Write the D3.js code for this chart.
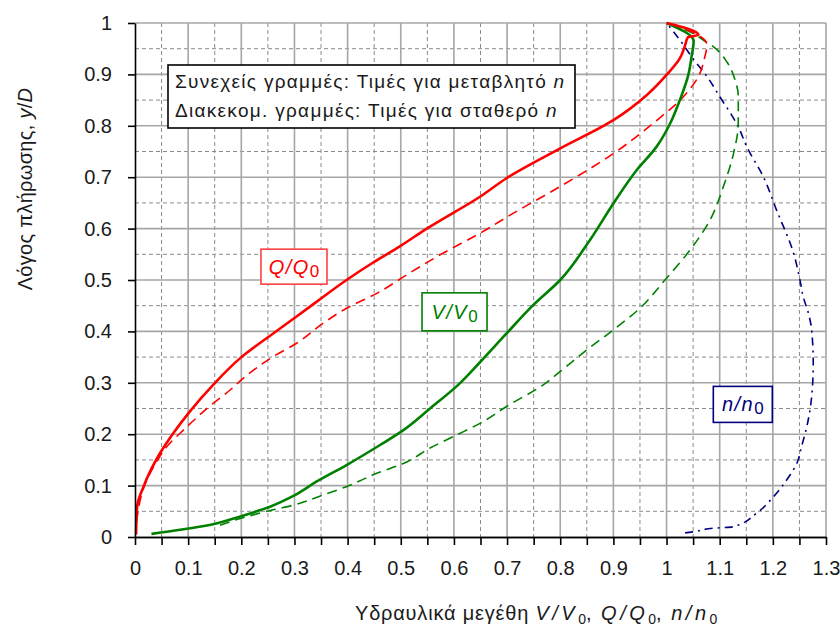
<!DOCTYPE html>
<html>
<head>
<meta charset="utf-8">
<script src="https://cdn.jsdelivr.net/npm/d3@7"></script>
<style>
  body { margin: 0; background: #fff; }
  svg { display: block; }
  text { font-family: "Liberation Sans", Arial, sans-serif; }
</style>
</head>
<body>
<svg id="chart" width="840" height="628"></svg>
<script>
(() => {

    // tick values and labels
    const x_tick_values = [0, 0.1, 0.2, 0.3, 0.4, 0.5, 0.6, 0.7, 0.8, 0.9, 1, 1.1, 1.2, 1.3];
    const x_tick_labels = ['0', '0.1', '0.2', '0.3', '0.4', '0.5', '0.6', '0.7', '0.8', '0.9', '1', '1.1', '1.2', '1.3'];
    const y_tick_values = [0, 0.1, 0.2, 0.3, 0.4, 0.5, 0.6, 0.7, 0.8, 0.9, 1];
    const y_tick_labels = ['0', '0.1', '0.2', '0.3', '0.4', '0.5', '0.6', '0.7', '0.8', '0.9', '1'];
    const x_minor_values = [0.05, 0.15, 0.25, 0.35, 0.45, 0.55, 0.65, 0.75, 0.85, 0.95, 1.05, 1.15, 1.25];
    const y_minor_values = [0.05, 0.15, 0.25, 0.35, 0.45, 0.55, 0.65, 0.75, 0.85, 0.95];

    // series: [value, y/D]
    const q_variable = [[0.002, 0.005], [0.004, 0.059], [0.016, 0.098], [0.047, 0.163], [0.072, 0.202],
        [0.103, 0.244], [0.147, 0.296], [0.198, 0.348], [0.26, 0.396], [0.304, 0.429], [0.342, 0.458],
        [0.398, 0.5], [0.448, 0.534], [0.499, 0.566], [0.549, 0.600], [0.649, 0.662], [0.699, 0.698],
        [0.8, 0.756], [0.9, 0.811], [0.963, 0.86], [1.0, 0.899], [1.025, 0.931], [1.035, 0.957],
        [1.04, 0.972], [1.06, 0.977], [1.0, 1.0]];

    const q_constant = [[0.003, 0.03], [0.018, 0.1], [0.041, 0.147], [0.06, 0.176], [0.091, 0.208],
        [0.147, 0.26], [0.179, 0.286], [0.204, 0.309], [0.26, 0.351], [0.304, 0.377], [0.354, 0.416],
        [0.398, 0.445], [0.455, 0.474], [0.511, 0.51], [0.574, 0.549], [0.649, 0.591], [0.712, 0.63],
        [0.8, 0.682], [0.9, 0.746], [0.975, 0.805], [1.032, 0.857], [1.06, 0.896], [1.072, 0.934],
        [1.076, 0.957], [1.059, 0.977], [1.0, 1.0]];

    const v_variable = [[0.031, 0.006], [0.085, 0.014], [0.147, 0.025], [0.198, 0.04], [0.254, 0.059],
        [0.298, 0.08], [0.342, 0.108], [0.398, 0.14], [0.461, 0.179], [0.505, 0.208], [0.555, 0.25],
        [0.608, 0.296], [0.649, 0.34], [0.699, 0.396], [0.749, 0.451], [0.8, 0.5], [0.856, 0.578],
        [0.9, 0.649], [0.944, 0.714], [0.981, 0.759], [1.007, 0.805], [1.025, 0.85], [1.041, 0.899],
        [1.047, 0.934], [1.051, 0.965], [1.0, 1.0]];

    const v_constant = [[0.16, 0.023], [0.198, 0.036], [0.26, 0.053], [0.298, 0.062], [0.354, 0.082],
        [0.398, 0.098], [0.455, 0.124], [0.505, 0.143], [0.555, 0.173], [0.618, 0.205], [0.649, 0.221],
        [0.699, 0.254], [0.768, 0.296], [0.8, 0.322], [0.85, 0.364], [0.9, 0.403], [0.95, 0.445],
        [0.997, 0.5], [1.044, 0.558], [1.082, 0.617], [1.107, 0.682], [1.126, 0.746], [1.135, 0.805],
        [1.135, 0.857], [1.129, 0.889], [1.113, 0.925], [1.088, 0.954], [1.069, 0.967], [1.05, 0.98],
        [1.0, 1.0]];

    const n_variable = [[1.035, 0.008], [1.05, 0.01], [1.088, 0.017], [1.126, 0.02], [1.169, 0.046],
        [1.201, 0.078], [1.226, 0.111], [1.245, 0.143], [1.254, 0.176], [1.264, 0.215], [1.273, 0.273],
        [1.276, 0.338], [1.273, 0.403], [1.267, 0.435], [1.257, 0.468], [1.251, 0.5], [1.239, 0.552],
        [1.207, 0.636], [1.182, 0.701], [1.151, 0.759], [1.135, 0.798], [1.1, 0.857], [1.076, 0.896],
        [1.051, 0.929], [1.025, 0.967], [1.0, 1.0]];

    // chart layout
    const left = 135, right = 826, top = 23, bottom = 537;
    const font = 20;

    let svg = d3.select('#chart');

    let x_scale = d3.scaleLinear().domain([0, 1.3]).range([left, right]);
    let y_scale = d3.scaleLinear().domain([0, 1]).range([bottom, top]);

    // dashed minor grid
    let grid = svg.append('g');
    grid.selectAll('.vminor')
        .data(x_minor_values)
        .enter()
        .append('line')
        .attr('x1', (d) => x_scale(d)).attr('x2', (d) => x_scale(d))
        .attr('y1', top).attr('y2', bottom)
        .attr('stroke', '#8a8a8a').attr('stroke-width', 1).attr('stroke-dasharray', '4,3');
    grid.selectAll('.hminor')
        .data(y_minor_values)
        .enter()
        .append('line')
        .attr('x1', left).attr('x2', right)
        .attr('y1', (d) => y_scale(d)).attr('y2', (d) => y_scale(d))
        .attr('stroke', '#8a8a8a').attr('stroke-width', 1).attr('stroke-dasharray', '4,3');

    // solid major grid
    grid.selectAll('.vmajor')
        .data(x_tick_values.slice(1))
        .enter()
        .append('line')
        .attr('x1', (d) => x_scale(d)).attr('x2', (d) => x_scale(d))
        .attr('y1', top).attr('y2', bottom)
        .attr('stroke', '#a6a6a6').attr('stroke-width', 1.6);
    grid.selectAll('.hmajor')
        .data(y_tick_values.slice(1))
        .enter()
        .append('line')
        .attr('x1', left).attr('x2', right)
        .attr('y1', (d) => y_scale(d)).attr('y2', (d) => y_scale(d))
        .attr('stroke', '#a6a6a6').attr('stroke-width', 1.6);

    // curves (y rises along every series, so smooth x as a function of y)
    let line = d3.line()
        .x((d) => x_scale(d[0]))
        .y((d) => y_scale(d[1]))
        .curve(d3.curveMonotoneY);

    const series = [
        { data: n_variable, color: '#000080', width: 1.6, dash: '8,5,2,5' },
        { data: v_constant, color: '#008000', width: 1.6, dash: '10,6' },
        { data: q_constant, color: '#ff0000', width: 1.6, dash: '10,6' },
        { data: v_variable, color: '#008000', width: 2.6, dash: null },
        { data: q_variable, color: '#ff0000', width: 2.6, dash: null }
    ];

    series.forEach((s) => {
        svg.append('path')
            .datum(s.data)
            .attr('fill', 'none')
            .attr('stroke', s.color)
            .attr('stroke-width', s.width)
            .attr('stroke-dasharray', s.dash)
            .attr('stroke-linejoin', 'round')
            .attr('d', line);
    });

    // axes
    let y_axis = d3.axisLeft(y_scale)
        .tickValues(y_tick_values)
        .tickFormat((d, i) => y_tick_labels[i])
        .tickSize(7).tickSizeOuter(0).tickPadding(16);
    svg.append('g')
        .attr('transform', `translate(${left}, 0)`)
        .call(y_axis);

    let x_minor_axis = d3.axisBottom(x_scale)
        .tickValues(x_minor_values)
        .tickFormat('')
        .tickSize(8).tickSizeOuter(0);
    svg.append('g')
        .attr('transform', `translate(0, ${bottom})`)
        .call(x_minor_axis);

    let x_axis = d3.axisBottom(x_scale)
        .tickValues(x_tick_values)
        .tickFormat((d, i) => x_tick_labels[i])
        .tickSize(8).tickSizeOuter(0).tickPadding(16);
    svg.append('g')
        .attr('transform', `translate(0, ${bottom})`)
        .call(x_axis);

    svg.selectAll('.domain').attr('stroke', '#000').attr('stroke-width', 1.6);
    svg.selectAll('.tick line').attr('stroke', '#000').attr('stroke-width', 1.6);
    svg.selectAll('.tick text')
        .style('font-size', font + 'px')
        .style('font-family', '"Liberation Sans", Arial, sans-serif')
        .attr('fill', '#1a1a1a');

    // axis titles
    svg.append('text')
        .attr('transform', 'translate(32, 189) rotate(-90)')
        .style('text-anchor', 'middle')
        .style('font-size', font + 'px')
        .style('letter-spacing', '0.3px')
        .attr('fill', '#1a1a1a')
        .html('Λόγος πλήρωσης, <tspan font-style="italic">y</tspan>/<tspan font-style="italic">D</tspan>');

    let x_title = svg.append('text')
        .attr('x', 355).attr('y', 620)
        .style('font-size', font + 'px')
        .attr('fill', '#1a1a1a');
    x_title.append('tspan').style('letter-spacing', '0.8px').text('Υδραυλικά μεγέθη ');
    [['V', 'V', ', '], ['Q', 'Q', ', '], ['n', 'n', '']].forEach((p) => {
        x_title.append('tspan').attr('font-style', 'italic').style('letter-spacing', '3.5px').text(p[0] + '/' + p[1]);
        x_title.append('tspan').attr('dy', 4).style('font-size', '14px').text('0');
        x_title.append('tspan').attr('dy', -4).style('letter-spacing', '2px').text(p[2]);
    });

    // legend box
    svg.append('rect')
        .attr('x', 168).attr('y', 65).attr('width', 407).attr('height', 63)
        .attr('fill', '#fff').attr('stroke', '#000').attr('stroke-width', 1.6);
    const legend_lines = ['Συνεχείς γραμμές: Τιμές για μεταβλητό ', 'Διακεκομ. γραμμές: Τιμές για σταθερό '];
    legend_lines.forEach((t, i) => {
        let txt = svg.append('text')
            .attr('x', 175).attr('y', 88 + i * 28.5)
            .style('font-size', '19px')
            .style('letter-spacing', '1.3px')
            .attr('fill', '#1a1a1a');
        txt.append('tspan').text(t);
        txt.append('tspan').attr('font-style', 'italic').text('n');
    });

    // curve labels
    const labels = [
        { sym: 'Q', color: '#ff0000', border: '#ff4040', x: 0.237, y: 0.56, w: 66, h: 35 },
        { sym: 'V', color: '#008000', border: '#008000', x: 0.540, y: 0.475, w: 65, h: 38 },
        { sym: 'n', color: '#000080', border: '#000080', x: 1.088, y: 0.293, w: 59, h: 36 }
    ];
    labels.forEach((l) => {
        let x0 = x_scale(l.x), y0 = y_scale(l.y);
        svg.append('rect')
            .attr('x', x0).attr('y', y0).attr('width', l.w).attr('height', l.h)
            .attr('fill', '#fff').attr('stroke', l.border).attr('stroke-width', 1.6);
        let t = svg.append('text')
            .attr('x', x0 + l.w / 2).attr('y', y0 + l.h / 2 + 7)
            .style('text-anchor', 'middle')
            .style('font-size', font + 'px')
            .attr('fill', l.color);
        t.append('tspan').attr('font-style', 'italic').style('letter-spacing', '1.5px').text(l.sym + '/' + l.sym);
        t.append('tspan').attr('dy', 3).style('font-size', '17px').text('0');
    });

})();
</script>
</body>
</html>
